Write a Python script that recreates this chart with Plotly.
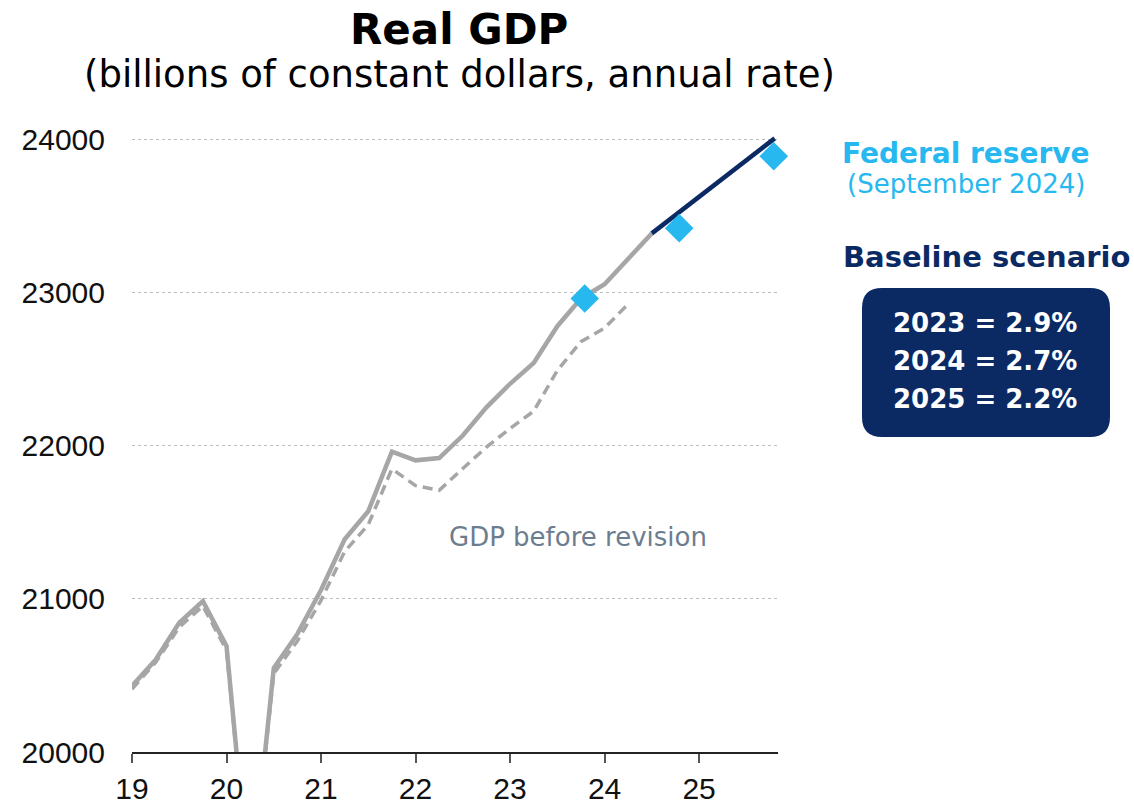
import plotly.graph_objects as go

# Quarterly real GDP, billions of chained dollars (SAAR); x = year (two digits) + quarter offset
quarters = [19.0, 19.25, 19.5, 19.75, 20.0, 20.25, 20.5, 20.75,
            21.0, 21.25, 21.5, 21.75, 22.0, 22.25, 22.5, 22.75,
            23.0, 23.25, 23.5, 23.75, 24.0, 24.25, 24.5]
gdp_revised = [20431, 20602, 20844, 20985, 20693, 19056, 20548, 20771,
               21058, 21389, 21572, 21961, 21904, 21919, 22066, 22250,
               22404, 22540, 22780, 22961, 23054, 23224, 23386]

quarters_before = [19.0, 19.25, 19.5, 19.75, 20.0, 20.25, 20.5, 20.75,
                   21.0, 21.25, 21.5, 21.75, 22.0, 22.25, 22.5, 22.75,
                   23.0, 23.25, 23.5, 23.75, 24.0, 24.25]
gdp_before = [20410, 20585, 20815, 20952, 20665, 19035, 20512, 20725,
              20990, 21309, 21484, 21848, 21739, 21708, 21851, 21990,
              22112, 22225, 22491, 22679, 22768, 22925]

# Baseline scenario path
baseline_x = [24.5, 25.8]
baseline_y = [23386, 24006]

# Federal Reserve projections (Q4 levels)
fed_x = [23.79, 24.79, 25.79]
fed_y = [22961, 23420, 23889]

x_ticks = [19, 20, 21, 22, 23, 24, 25]
x_labels = ["19", "20", "21", "22", "23", "24", "25"]
y_ticks = [20000, 21000, 22000, 23000, 24000]

baseline_lines = ["2023 = 2.9%", "2024 = 2.7%", "2025 = 2.2%"]

GRAY = "#a6a6a6"
NAVY = "#0b2a64"
SKY = "#27b8f0"
FONT = "DejaVu Sans"

W, H = 1134, 806
L, R, T, B = 132, 356, 124, 54
PW, PH = W - L - R, H - T - B


def px(x):
    return (x - L) / PW


def py(y):
    return (H - B - y) / PH


fig = go.Figure()
fig.add_trace(go.Scatter(x=quarters_before, y=gdp_before, mode="lines",
                         line=dict(color=GRAY, width=3.5, dash="10px,6px"),
                         showlegend=False))
fig.add_trace(go.Scatter(x=quarters, y=gdp_revised, mode="lines",
                         line=dict(color=GRAY, width=4.5),
                         showlegend=False))
fig.add_trace(go.Scatter(x=baseline_x, y=baseline_y, mode="lines",
                         line=dict(color=NAVY, width=4.5),
                         showlegend=False))
fig.add_trace(go.Scatter(x=fed_x, y=fed_y, mode="markers", cliponaxis=False,
                         marker=dict(symbol="diamond", size=22, color=SKY,
                                     line=dict(width=0)),
                         showlegend=False))

# Rounded box behind the baseline figures
x0, x1, y0, y1, r = 862, 1110, 288, 437, 20
rx, ry = r / PW, r / PH
X0, X1, Y0, Y1 = px(x0), px(x1), py(y1), py(y0)
path = (f"M {X0+rx},{Y0} L {X1-rx},{Y0} Q {X1},{Y0} {X1},{Y0+ry} "
        f"L {X1},{Y1-ry} Q {X1},{Y1} {X1-rx},{Y1} "
        f"L {X0+rx},{Y1} Q {X0},{Y1} {X0},{Y1-ry} "
        f"L {X0},{Y0+ry} Q {X0},{Y0} {X0+rx},{Y0} Z")
fig.add_shape(type="path", path=path, xref="paper", yref="paper",
              fillcolor=NAVY, line=dict(width=0), layer="above")

annotations = [
    dict(text="<b>Real GDP</b>", x=px(459), y=py(30), size=42, color="#000000"),
    dict(text="(billions of constant dollars, annual rate)", x=px(459), y=py(75),
         size=37, color="#000000"),
    dict(text="<b>Federal reserve</b>", x=px(966), y=py(153), size=28, color=SKY),
    dict(text="(September 2024)", x=px(966), y=py(184), size=26, color=SKY),
    dict(text="<b>Baseline scenario</b>", x=px(986), y=py(257), size=29, color=NAVY),
    dict(text="GDP before revision", x=px(578), y=py(537), size=26, color="#6d7d90"),
]
for i, t in enumerate(baseline_lines):
    annotations.append(dict(text=f"<b>{t}</b>", x=px(985), y=py(323 + 38 * i),
                            size=26, color="#ffffff"))

for a in annotations:
    fig.add_annotation(text=a["text"], x=a["x"], y=a["y"], xref="paper", yref="paper",
                       xanchor="center", yanchor="middle", showarrow=False,
                       font=dict(family=FONT, size=a["size"], color=a["color"]))

fig.update_layout(
    width=W, height=H, autosize=False,
    margin=dict(l=L, r=R, t=T, b=B),
    paper_bgcolor="white", plot_bgcolor="white",
    font=dict(family="Liberation Sans, Arial", size=30, color="#111111"),
    xaxis=dict(range=[19, 25.835], tickvals=x_ticks, ticktext=x_labels,
               showgrid=False, zeroline=False, showline=True, automargin=False,
               linecolor="#222222", linewidth=1.5,
               ticks="outside", ticklen=9, tickwidth=1.5, tickcolor="#555555",
               tickfont=dict(size=30, color="#111111")),
    yaxis=dict(range=[20000, 24100], tickvals=y_ticks, tickformat="d",
               showgrid=True, gridcolor="#b9bec4", griddash="dot", gridwidth=1,
               zeroline=False, showline=False, ticks="", automargin=False,
               ticklabelstandoff=26,
               tickfont=dict(size=30, color="#111111")),
)

fig.write_html("out.html")
